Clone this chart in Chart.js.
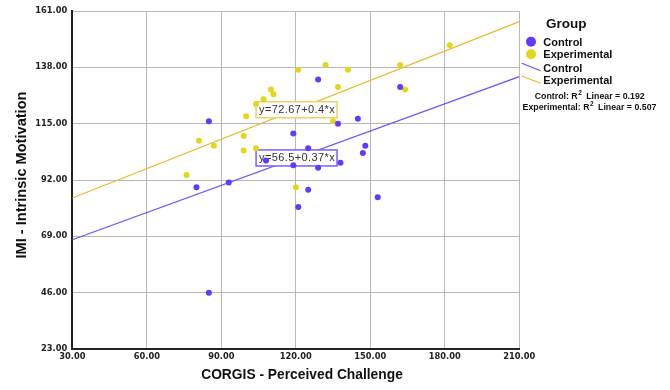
<!DOCTYPE html>
<html>
<head>
<meta charset="utf-8">
<script src="https://cdn.jsdelivr.net/npm/chart.js@4.4.0/dist/chart.umd.min.js"></script>
<style>
    html, body { margin: 0; padding: 0; background: #fff; }
    #chart { display: block; }
</style>
</head>
<body>
<canvas id="chart" width="670" height="390"></canvas>
<script>
// values
const controlX = [85, 80, 93, 85, 119, 108, 119, 129, 162, 145, 137, 125, 148, 147, 138, 129, 125, 153, 121];
const controlY = [116, 89, 91, 46, 111, 100, 98, 133, 130, 117, 115, 105, 106, 103, 99, 97, 88, 85, 81];
const experimentalX = [121, 132, 141, 162, 182, 137, 164, 110, 111, 107, 104, 100, 135, 99, 81, 87, 99, 104, 76, 120];
const experimentalY = [137, 139, 137, 139, 147, 130, 129, 129, 127, 125, 123, 118, 116, 110, 108, 106, 104, 105, 94, 89];

// fit lines, ends at x = 30 and x = 210
const fitX = [30, 210];
const controlFitY = [67.6, 134.2];
const experimentalFitY = [84.67, 156.67];

const xTicks = [30, 60, 90, 120, 150, 180, 210];
const yTicks = [23, 46, 69, 92, 115, 138, 161];

const groups = ["Control", "Experimental"];
const fitLabels = ["y=56.5+0.37*x", "y=72.67+0.4*x"];
const r2Values = ["0.192", "0.507"];

const purple = "#6338ff";
const yellow = "#e2d71a";
const purpleLine = "#6f4dff";
const yellowLine = "#e6bb2c";

function toPoints(xs, ys) {
    return xs.map((x, i) => ({ x: x, y: ys[i] }));
}

function drawEqBox(ctx, left, midY, text, color) {
    ctx.save();
    ctx.fillStyle = "#fff";
    ctx.fillRect(left, midY - 8, 81, 16);
    ctx.strokeStyle = color;
    ctx.lineWidth = 1.5;
    ctx.strokeRect(left, midY - 8, 81, 16);
    ctx.fillStyle = "#333";
    ctx.font = '11px "Liberation Sans", Arial, sans-serif';
    ctx.letterSpacing = "0.4px";
    ctx.textAlign = "center";
    ctx.textBaseline = "middle";
    ctx.fillText(text, left + 41, midY + 0.5);
    ctx.restore();
}

function drawR2(ctx, centerX, midY, name, value) {
    let big = 'bold 8.8px "Liberation Sans", Arial, sans-serif';
    let small = 'bold 6.5px "Liberation Sans", Arial, sans-serif';
    let part1 = name + ": R";
    let part3 = "  Linear = " + value;
    ctx.font = big;
    let w1 = ctx.measureText(part1).width;
    let w3 = ctx.measureText(part3).width;
    ctx.font = small;
    let w2 = ctx.measureText("2").width;
    let x = centerX - (w1 + w2 + w3) / 2;
    ctx.textAlign = "left";
    ctx.textBaseline = "middle";
    ctx.font = big;
    ctx.fillText(part1, x, midY);
    ctx.font = small;
    ctx.fillText("2", x + w1 + 0.5, midY - 3);
    ctx.font = big;
    ctx.fillText(part3, x + w1 + w2, midY);
}

const decorPlugin = {
    id: "decor",
    afterDatasetDraw(chart, args) {
        // boxes go over the fit lines but under the points
        if (args.index !== 2) return;
        const ctx = chart.ctx;
        const xs = chart.scales.x;
        const ys = chart.scales.y;
        drawEqBox(ctx, xs.getPixelForValue(104), ys.getPixelForValue(120.7), fitLabels[1], "#edd166");
        drawEqBox(ctx, xs.getPixelForValue(104), ys.getPixelForValue(101), fitLabels[0], "#7b5cff");
    },
    afterDraw(chart) {
        const ctx = chart.ctx;
        ctx.save();
        ctx.fillStyle = "#111";

        // axis titles
        ctx.font = 'bold 13.8px "Liberation Sans", Arial, sans-serif';
        ctx.textAlign = "center";
        ctx.textBaseline = "middle";
        ctx.fillText("CORGIS - Perceived Challenge", 302, 375.5);

        ctx.save();
        ctx.translate(21.7, 175);
        ctx.rotate(-Math.PI / 2);
        ctx.font = 'bold 14.6px "Liberation Sans", Arial, sans-serif';
        ctx.fillText("IMI - Intrinsic Motivation", 0, 0);
        ctx.restore();

        // legend
        ctx.textAlign = "left";
        ctx.textBaseline = "alphabetic";
        ctx.font = 'bold 13.5px "Liberation Sans", Arial, sans-serif';
        ctx.fillText("Group", 546, 27.5);

        ctx.textBaseline = "middle";
        ctx.font = 'bold 11px "Liberation Sans", Arial, sans-serif';

        ctx.fillStyle = purple;
        ctx.beginPath();
        ctx.arc(531, 41.7, 5, 0, Math.PI * 2);
        ctx.fill();
        ctx.fillStyle = yellow;
        ctx.beginPath();
        ctx.arc(531, 54.3, 5, 0, Math.PI * 2);
        ctx.fill();

        ctx.fillStyle = "#111";
        ctx.fillText(groups[0], 543.3, 42.5);
        ctx.fillText(groups[1], 543.3, 55);

        ctx.lineWidth = 1.2;
        ctx.strokeStyle = purpleLine;
        ctx.beginPath();
        ctx.moveTo(521.7, 63.3);
        ctx.lineTo(540.7, 70.7);
        ctx.stroke();
        ctx.strokeStyle = yellowLine;
        ctx.beginPath();
        ctx.moveTo(521.7, 76);
        ctx.lineTo(540.7, 83.3);
        ctx.stroke();

        ctx.fillText(groups[0], 543.3, 68.5);
        ctx.fillText(groups[1], 543.3, 81.2);

        drawR2(ctx, 589.7, 96.7, groups[0], r2Values[0]);
        drawR2(ctx, 589.5, 107.7, groups[1], r2Values[1]);

        ctx.restore();
    }
};

const tickFont = { family: "DejaVu Sans", size: 8.3, weight: "bold" };

new Chart(document.getElementById("chart"), {
    type: "scatter",
    data: {
        datasets: [
            {
                label: groups[0],
                data: toPoints(controlX, controlY),
                pointRadius: 3,
                pointBackgroundColor: purple,
                pointBorderWidth: 0,
                order: 0
            },
            {
                label: groups[1],
                data: toPoints(experimentalX, experimentalY),
                pointRadius: 3,
                pointBackgroundColor: yellow,
                pointBorderWidth: 0,
                order: 1
            },
            {
                label: groups[0] + " fit",
                data: toPoints(fitX, controlFitY),
                showLine: true,
                pointRadius: 0,
                borderColor: purpleLine,
                borderWidth: 1.2,
                order: 2
            },
            {
                label: groups[1] + " fit",
                data: toPoints(fitX, experimentalFitY),
                showLine: true,
                pointRadius: 0,
                borderColor: yellowLine,
                borderWidth: 1.2,
                order: 3
            }
        ]
    },
    options: {
        responsive: false,
        animation: false,
        layout: { padding: { top: 11, right: 150.7, left: 0, bottom: 0 } },
        plugins: {
            legend: { display: false },
            tooltip: { enabled: false }
        },
        scales: {
            x: {
                type: "linear",
                min: 30,
                max: 210,
                afterBuildTicks: s => { s.ticks = xTicks.map(v => ({ value: v })); },
                afterFit: s => { s.height = 41; },
                grid: { color: "#b8b8b8", drawTicks: false },
                border: { color: "#222", width: 2 },
                ticks: {
                    padding: 3,
                    color: "#222",
                    font: tickFont,
                    autoSkip: false,
                    maxRotation: 0,
                    callback: v => v.toFixed(2)
                }
            },
            y: {
                type: "linear",
                min: 23,
                max: 161,
                afterBuildTicks: s => { s.ticks = yTicks.map(v => ({ value: v })); },
                afterFit: s => { s.width = 72.3; },
                grid: { color: "#b8b8b8", drawTicks: false },
                border: { color: "#222", width: 2 },
                ticks: {
                    padding: 5,
                    color: "#222",
                    font: tickFont,
                    autoSkip: false,
                    callback: v => v.toFixed(2)
                }
            }
        }
    },
    plugins: [decorPlugin]
});
</script>
</body>
</html>
